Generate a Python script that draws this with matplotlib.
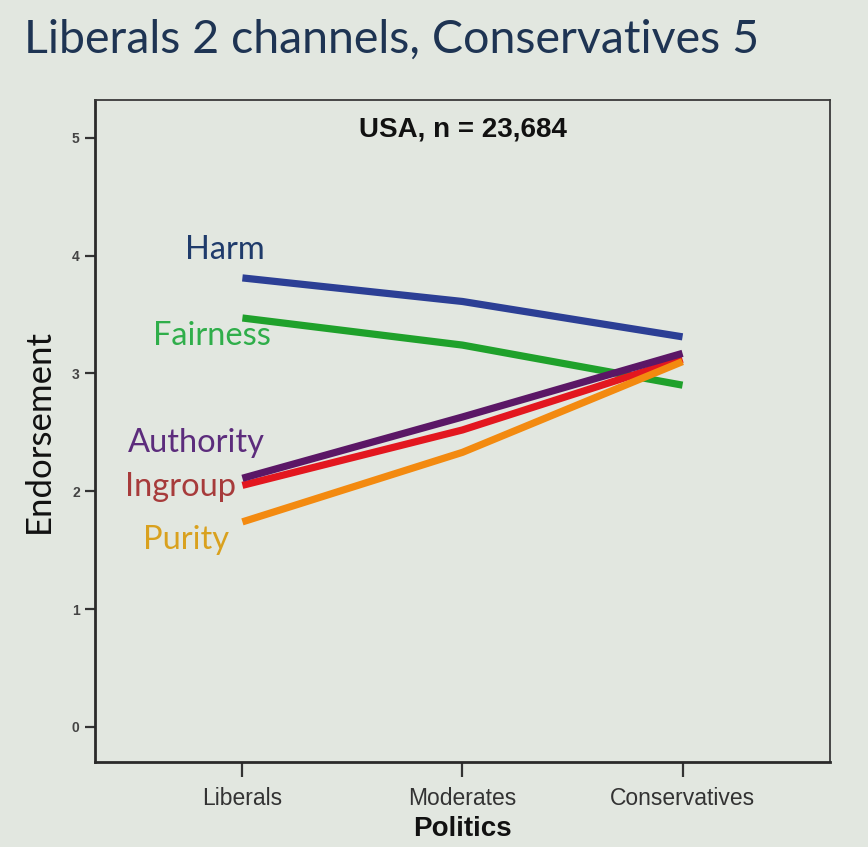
"""
Moral foundations endorsement by politics (USA sample)
"""

import matplotlib
matplotlib.use('Agg')
import matplotlib.pyplot as plt

politics = ["Liberals", "Moderates", "Conservatives"]

harm = [3.81, 3.61, 3.31]
fairness = [3.47, 3.24, 2.90]
authority = [2.11, 2.63, 3.17]
ingroup = [2.05, 2.52, 3.12]
purity = [1.74, 2.33, 3.10]

foundations = ["Harm", "Fairness", "Ingroup", "Purity", "Authority"]
series = {
    "Harm": harm,
    "Fairness": fairness,
    "Authority": authority,
    "Ingroup": ingroup,
    "Purity": purity,
}

line_colors = {
    "Harm": "#2C3F95",
    "Fairness": "#1FA12B",
    "Authority": "#5B1766",
    "Ingroup": "#E3171F",
    "Purity": "#F38A10",
}
text_colors = {
    "Harm": "#1F3B6B",
    "Fairness": "#2FAE4A",
    "Authority": "#5C2C7C",
    "Ingroup": "#A73B3B",
    "Purity": "#D9A11E",
}
# label anchor (right edge x, centre y) in data units
label_pos = {
    "Harm": (0.10, 4.05),
    "Fairness": (0.13, 3.32),
    "Authority": (0.10, 2.41),
    "Ingroup": (-0.03, 2.04),
    "Purity": (-0.06, 1.59),
}

narrow = ['DejaVu Sans Condensed', 'Liberation Sans']
calibri = ['Lato', 'DejaVu Sans']

bg = "#E2E7E0"
fig = plt.figure(figsize=(8.68, 8.47), dpi=100, facecolor=bg)
ax = fig.add_axes([0.1094, 0.1004, 0.8468, 0.7816])
ax.set_facecolor(bg)

x = list(range(len(politics)))
for name in foundations:
    ax.plot(x, series[name], color=line_colors[name], linewidth=5.2,
            solid_capstyle='butt', zorder=3)

for name, (lx, ly) in label_pos.items():
    ax.text(lx, ly, name, color=text_colors[name], fontsize=23.5,
            family=calibri, ha='right', va='center')

ax.set_xlim(-0.67, 2.67)
ax.set_ylim(-0.297, 5.32)
ax.set_xticks(x)
ax.set_xticklabels(politics, fontsize=16.5, color="#333333", family=narrow)
ax.set_yticks(range(6))
ax.set_yticklabels([str(i) for i in range(6)], fontsize=10, color="#444444",
                   family=narrow, fontweight='bold')
ax.tick_params(axis='x', length=11, width=1.6, color="#333333", pad=7)
ax.tick_params(axis='y', length=7, width=1.6, color="#333333", pad=4)

for side in ['left', 'bottom']:
    ax.spines[side].set_linewidth(2.0)
    ax.spines[side].set_color("#2A2A2A")
for side in ['top', 'right']:
    ax.spines[side].set_linewidth(1.3)
    ax.spines[side].set_color("#3A3A3A")

ax.set_xlabel("Politics", fontsize=20, fontweight='bold', color="#111111",
              family=narrow, labelpad=4)
ax.set_ylabel("Endorsement", fontsize=25, color="#111111",
              family=calibri, labelpad=12)

ax.text(0.5, 0.955, "USA, n = 23,684", transform=ax.transAxes,
        ha='center', va='center', fontsize=20, fontweight='bold', color="#111111",
        family=narrow)

fig.text(0.028, 0.953, "Liberals 2 channels, Conservatives 5", ha='left', va='center',
         fontsize=33.5, color="#1E3453", family=calibri)

fig.savefig("out.png", dpi=100, facecolor=bg)
